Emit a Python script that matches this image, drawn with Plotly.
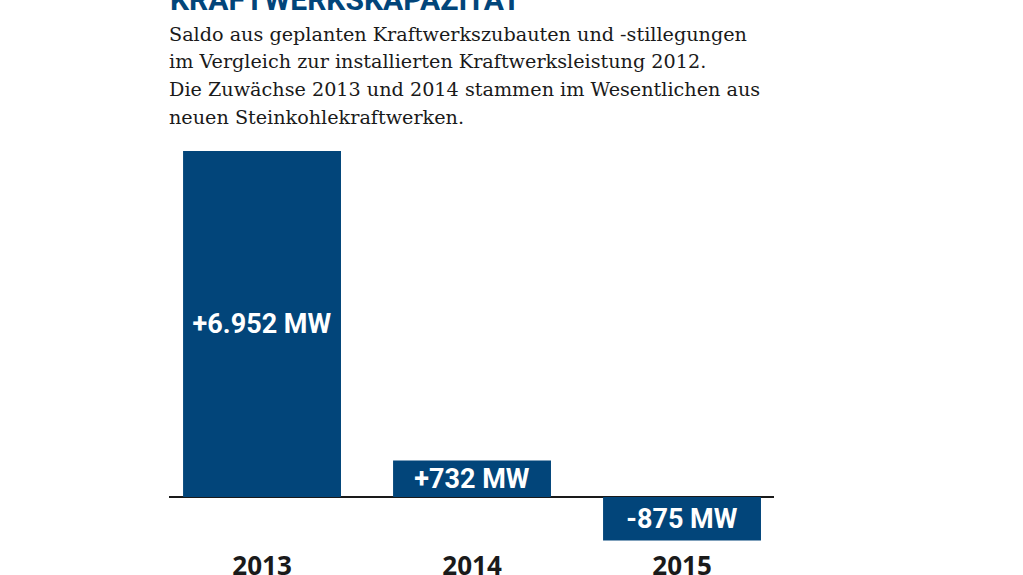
import plotly.graph_objects as go

years = ['2013', '2014', '2015']
saldo_mw = [6952, 732, -875]
bar_labels = ['+6.952 MW', '+732 MW', '-875 MW']

titel = 'KRAFTWERKSKAPAZITÄT'
untertitel = [
    'Saldo aus geplanten Kraftwerkszubauten und -stillegungen',
    'im Vergleich zur installierten Kraftwerksleistung 2012.',
    'Die Zuwächse 2013 und 2014 stammen im Wesentlichen aus',
    'neuen Steinkohlekraftwerken.',
]

W, H = 1023, 575
blau = '#02457a'


def px(x):
    return x / W


def py(y):
    return 1 - y / H


fig = go.Figure()
fig.add_trace(go.Bar(
    x=years,
    y=saldo_mw,
    width=0.752,
    marker=dict(color=blau, line_width=0),
    text=bar_labels,
    textposition='inside',
    insidetextanchor='middle',
    constraintext='none',
    textfont=dict(family='Roboto', size=27, color='white', weight='bold'),
    showlegend=False,
))

# headline (cut off at the top edge) and intro text
fig.add_annotation(
    text=titel, xref='paper', yref='paper',
    x=px(168), y=py(19), xanchor='left', yanchor='bottom',
    showarrow=False,
    font=dict(family='Roboto', size=30, color=blau, weight='bold'),
)
for i, zeile in enumerate(untertitel):
    fig.add_annotation(
        text=zeile, xref='paper', yref='paper',
        x=px(167), y=py(34 + i * 27.7), xanchor='left', yanchor='middle',
        showarrow=False,
        font=dict(family='DejaVu Serif', size=19.2, color='#1a1a1a'),
    )

fig.update_layout(
    width=W, height=H,
    margin=dict(l=0, r=0, t=0, b=0),
    paper_bgcolor='white', plot_bgcolor='white',
    xaxis=dict(
        domain=[px(169), px(774)],
        range=[-0.443, 2.438],
        automargin=False,
        showgrid=False, showline=False, ticks='',
        ticklabelstandoff=3,
        tickfont=dict(family='Open Sans', size=26, color='#1a1a1a', weight='bold'),
    ),
    yaxis=dict(
        domain=[py(545), py(140)],
        range=[-964.5, 7173],
        automargin=False,
        showgrid=False, showticklabels=False, ticks='',
        zeroline=True, zerolinecolor='#1a1a1a', zerolinewidth=2,
    ),
)

fig.write_html('out.html', config={'displayModeBar': False},
               post_script="document.body.style.margin = '0px';")
